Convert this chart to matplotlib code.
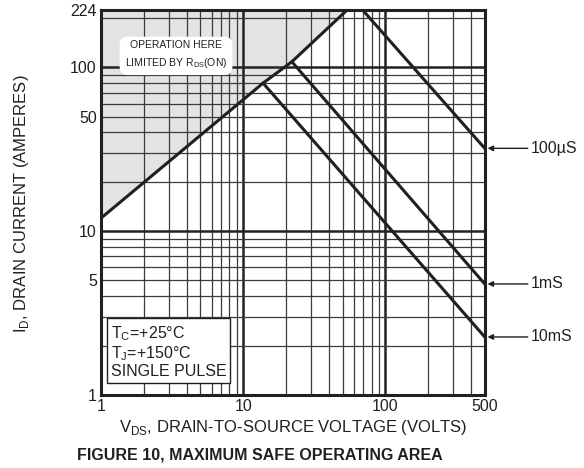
import numpy as np
import matplotlib.pyplot as plt
from matplotlib.ticker import FixedLocator, NullFormatter

plt.rcParams['font.family'] = ['Liberation Sans', 'DejaVu Sans']

# data (volts, amperes)
rds_v = [1, 13.8, 22, 54]
rds_i = [12, 80, 108, 224]
us100_v = [69, 500]
us100_i = [224, 32]
ms1_v = [22, 500]
ms1_i = [108, 4.76]
ms10_v = [13.8, 500]
ms10_i = [80, 2.26]

x_ticks = [1, 10, 100, 500]
y_ticks = [1, 5, 10, 50, 100, 224]

fig = plt.figure(figsize=(5.84, 4.68), dpi=100)
ax = fig.add_axes([0.173, 0.156, 0.657, 0.823])
ax.set_xscale('log')
ax.set_yscale('log')
ax.set_xlim(1, 500)
ax.set_ylim(1, 224)

# grid
xminor = [m * d for d in (1, 10, 100) for m in range(2, 10) if m * d < 500]
yminor = [m * d for d in (1, 10, 100) for m in range(2, 10) if m * d < 224]
for v in xminor:
    ax.axvline(v, color='#3a3a3a', lw=0.9, zorder=1)
for v in (10, 100):
    ax.axvline(v, color='#222222', lw=1.8, zorder=1)
for v in yminor:
    ax.axhline(v, color='#3a3a3a', lw=0.9, zorder=1)
for v in (10, 100):
    ax.axhline(v, color='#222222', lw=1.8, zorder=1)

# shaded region limited by Rds(on)
xs = np.logspace(0, np.log10(rds_v[-1]), 200)
ys = np.interp(np.log10(xs), np.log10(rds_v), np.log10(rds_i))
ax.fill_between(xs, 10 ** ys, 224, color='#e2e3e4', zorder=0.5, lw=0)

lc = '#231f20'
ax.plot(rds_v, rds_i, color=lc, lw=2.2, zorder=3)
ax.plot(us100_v, us100_i, color=lc, lw=2.2, zorder=3)
ax.plot(ms1_v, ms1_i, color=lc, lw=2.2, zorder=3)
ax.plot(ms10_v, ms10_i, color=lc, lw=2.2, zorder=3)

for s in ax.spines.values():
    s.set_linewidth(2.2)
    s.set_color(lc)
    s.set_zorder(4)

ax.xaxis.set_major_locator(FixedLocator(x_ticks))
ax.yaxis.set_major_locator(FixedLocator(y_ticks))
ax.set_xticklabels([str(t) for t in x_ticks])
ax.set_yticklabels([str(t) for t in y_ticks])
ax.xaxis.set_minor_formatter(NullFormatter())
ax.yaxis.set_minor_formatter(NullFormatter())
ax.tick_params(which='both', length=0, labelsize=11.5, colors='#231f20', pad=3)

ax.set_xlabel('V$_{\\mathregular{DS}}$, DRAIN-TO-SOURCE VOLTAGE (VOLTS)', fontsize=12,
              labelpad=3, color='#231f20')
fig.text(0.037, 0.565, 'I$_{\\mathregular{D}}$, DRAIN CURRENT (AMPERES)', fontsize=12,
         rotation=90, ha='center', va='center', color='#231f20')
fig.text(0.445, 0.018, 'FIGURE 10, MAXIMUM SAFE OPERATING AREA', ha='center',
         fontsize=11.5, fontweight='bold', color='#231f20')

ax.text(3.37, 119, 'OPERATION HERE\nLIMITED BY R$_{\\mathregular{DS}}$(ON)', ha='center',
        va='center', fontsize=7.5, linespacing=1.6, zorder=5, color='#231f20',
        bbox=dict(boxstyle='round,pad=0.5,rounding_size=0.8', fc='white', ec='none'))

ax.text(1.17, 1.25, 'T$_{\\mathregular{C}}$=+25°C\nT$_{\\mathregular{J}}$=+150°C\nSINGLE PULSE',
        ha='left', va='bottom', fontsize=11.5, linespacing=1.1, zorder=5, color='#231f20',
        bbox=dict(boxstyle='square,pad=0.25', fc='white', ec='#231f20', lw=1))

for lab, yv in (('100µS', us100_i[-1]), ('1mS', ms1_i[-1]), ('10mS', ms10_i[-1])):
    ax.annotate(lab, xy=(500, yv), xytext=(33, 0), textcoords='offset points',
                va='center', ha='left', fontsize=11.5, color='#231f20',
                annotation_clip=False,
                arrowprops=dict(arrowstyle='-|>', color='#231f20', lw=1,
                                mutation_scale=8, shrinkA=0, shrinkB=2))

fig.savefig('out.png', dpi=100)
